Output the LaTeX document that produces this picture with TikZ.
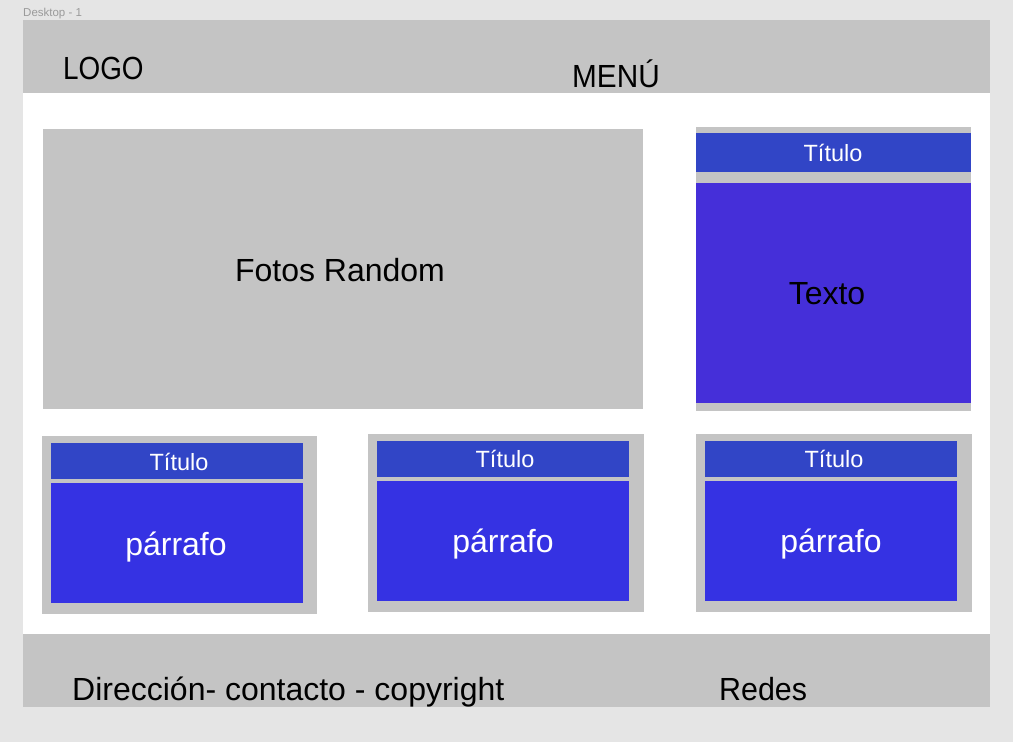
\documentclass[tikz,border=0pt]{standalone}
\usepackage{fontspec}
\setmainfont{Liberation Sans}
\definecolor{bgc}{HTML}{E5E5E5}
\definecolor{panel}{HTML}{C4C4C4}
\definecolor{titlebar}{HTML}{3145C6}
\definecolor{cardbody}{HTML}{3532E3}
\definecolor{textbody}{HTML}{452FD9}
\definecolor{lbl}{HTML}{9A9A9A}
\begin{document}
\begin{tikzpicture}[x=1pt,y=-1pt,
  big/.style={font=\fontsize{32}{38}\selectfont, inner sep=0pt, anchor=base},
  smalltitle/.style={font=\fontsize{23.5}{28}\selectfont, inner sep=0pt, anchor=base, text=white},
  bigwhite/.style={big, text=white}]
\useasboundingbox (0,0) rectangle (1013,742);
\fill[bgc] (0,0) rectangle (1013,742);
\node[anchor=base west, inner sep=0pt, font=\fontsize{11.5}{13}\selectfont, text=lbl] (frame) at (23,16) {Desktop - 1};
\fill[white] (23,20) rectangle (990,707);
% header and footer
\fill[panel] (23,20) rectangle (990,93);
\fill[panel] (23,634) rectangle (990,707);
\node[big, anchor=base west] (logo) at (63,79) {\scalebox{0.87}[1]{LOGO}};
\node[big, anchor=base west] (menu) at (572,87) {\scalebox{0.93}[1]{MENÚ}};
\node[big, anchor=base west] (dir) at (72,700) {Dirección- contacto - copyright};
\node[big, anchor=base west] (redes) at (719,700) {\scalebox{0.95}[1]{Redes}};
% fotos
\fill[panel] (43,129) rectangle (643,409);
\node[big] (fotos) at (340,281) {Fotos Random};
% right column
\fill[panel] (696,127) rectangle (971,411);
\fill[titlebar] (696,133) rectangle (971,172);
\fill[textbody] (696,183) rectangle (971,403);
\node[smalltitle] (t0) at (833,161) {Título};
\node[big] (texto) at (827,304) {Texto};
% card 1
\fill[panel] (42,436) rectangle (317,614);
\fill[titlebar] (51,443) rectangle (303,479);
\fill[cardbody] (51,483) rectangle (303,603);
\node[smalltitle] (t1) at (179,470) {Título};
\node[bigwhite] (p1) at (176,555) {párrafo};
% card 2
\fill[panel] (368,434) rectangle (644,612);
\fill[titlebar] (377,441) rectangle (629,477);
\fill[cardbody] (377,481) rectangle (629,601);
\node[smalltitle] (t2) at (505,467) {Título};
\node[bigwhite] (p2) at (503,552) {párrafo};
% card 3
\fill[panel] (696,434) rectangle (972,612);
\fill[titlebar] (705,441) rectangle (957,477);
\fill[cardbody] (705,481) rectangle (957,601);
\node[smalltitle] (t3) at (834,467) {Título};
\node[bigwhite] (p3) at (831,552) {párrafo};
\end{tikzpicture}
\end{document}
